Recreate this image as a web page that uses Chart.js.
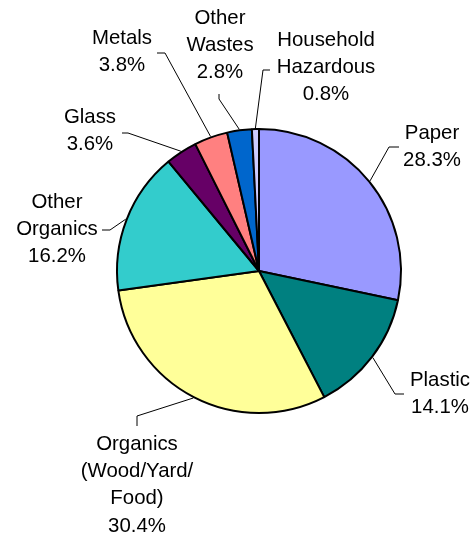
<!DOCTYPE html>
<html>
<head>
<meta charset="utf-8">
<script src="https://cdn.jsdelivr.net/npm/chart.js@4.4.1/dist/chart.umd.min.js"></script>
<style>
    html, body { margin: 0; padding: 0; background: #fff; }
    #wrap { width: 475px; height: 538px; position: relative; }
</style>
</head>
<body>
<div id="wrap"><canvas id="wastePie"></canvas></div>
<script>
/* === Waste composition pie === */

// ── Data (clockwise from 12 o'clock) ──
const categories = ['Paper', 'Plastic', 'Organics (Wood/Yard/Food)', 'Other Organics', 'Glass', 'Metals', 'Other Wastes', 'Household Hazardous'];
const labelLines = [['Paper'], ['Plastic'], ['Organics', '(Wood/Yard/', 'Food)'], ['Other', 'Organics'], ['Glass'], ['Metals'], ['Other', 'Wastes'], ['Household', 'Hazardous']];
const shares = [28.3, 14.1, 30.4, 16.2, 3.6, 3.8, 2.8, 0.8];
const sliceColors = ['#9999FF', '#008080', '#FFFF99', '#33CCCC', '#660066', '#FF8080', '#0066CC', '#CCCCFF'];

// ── Label placement: text block centre x / first line y, leader elbow and tail ──
const labelLayout = [
    { x: 432, y: 133, elbow: [389, 147], tail: [399, 147] },
    { x: 440, y: 380, elbow: [395, 394], tail: [404, 394] },
    { x: 137, y: 444, elbow: [137, 416], tail: [137, 426] },
    { x: 57,  y: 202, elbow: [110, 230], tail: [102, 230] },
    { x: 90,  y: 117, elbow: [128, 133], tail: [122, 133] },
    { x: 122, y: 38,  elbow: [165, 53],  tail: [157, 53] },
    { x: 220, y: 18,  elbow: [219, 99],  tail: [219, 94] },
    { x: 326, y: 40,  elbow: [263, 70],  tail: [270, 70] },
];
const LINE_H = 27.3;

// leader lines + text drawn after the slices
const sliceLabels = {
    id: 'sliceLabels',
    afterDatasetsDraw(chart) {
        const ctx = chart.ctx;
        const arcs = chart.getDatasetMeta(0).data;
        ctx.save();
        ctx.strokeStyle = '#000';
        ctx.lineWidth = 1;
        ctx.fillStyle = '#000';
        ctx.font = '20.4px "Liberation Sans", Arial, sans-serif';
        ctx.textAlign = 'center';
        ctx.textBaseline = 'middle';
        arcs.forEach((arc, i) => {
            const p = arc.getProps(['x', 'y', 'startAngle', 'endAngle', 'outerRadius'], true);
            const mid = (p.startAngle + p.endAngle) / 2;
            const r = p.outerRadius + 1;
            const lay = labelLayout[i];
            ctx.beginPath();
            ctx.moveTo(p.x + r * Math.cos(mid), p.y + r * Math.sin(mid));
            ctx.lineTo(lay.elbow[0], lay.elbow[1]);
            ctx.lineTo(lay.tail[0], lay.tail[1]);
            ctx.stroke();
            const lines = [...labelLines[i], shares[i].toFixed(1) + '%'];
            lines.forEach((t, k) => ctx.fillText(t, lay.x, lay.y + k * LINE_H));
        });
        ctx.restore();
    }
};

new Chart(document.getElementById('wastePie'), {
    type: 'pie',
    data: {
        labels: categories,
        datasets: [{
            data: shares,
            backgroundColor: sliceColors,
            borderColor: '#000',
            borderWidth: 2,
        }]
    },
    options: {
        responsive: true, maintainAspectRatio: false,
        animation: false,
        layout: { padding: { left: 116, right: 73, top: 128, bottom: 124 } },
        plugins: { legend: { display: false }, tooltip: { enabled: false } }
    },
    plugins: [sliceLabels]
});
</script>
</body>
</html>
